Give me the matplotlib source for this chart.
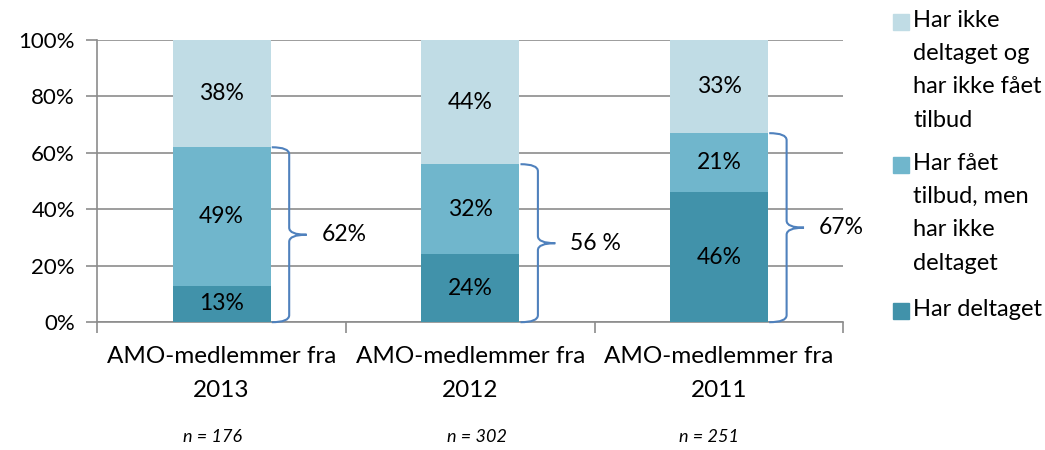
import matplotlib.pyplot as plt
from matplotlib.path import Path
from matplotlib.patches import PathPatch, Rectangle
import numpy as np

plt.rcParams['font.family'] = ['Lato', 'DejaVu Sans']

categories = ['AMO-medlemmer fra\n2013', 'AMO-medlemmer fra\n2012', 'AMO-medlemmer fra\n2011']
n_labels = ['n = 176', 'n = 302', 'n = 251']
deltaget = [13, 24, 46]
tilbud_ikke_deltaget = [49, 32, 21]
ikke_deltaget = [38, 44, 33]
brace_labels = ['62%', '56 %', '67%']
series_names = ['Har ikke\ndeltaget og\nhar ikke fået\ntilbud',
                'Har fået\ntilbud, men\nhar ikke\ndeltaget',
                'Har deltaget']

c_dark = '#4192AA'
c_mid = '#70B6CC'
c_light = '#C0DCE5'
brace_col = '#4F81BD'
grid_col = '#8C8C8C'

W, H = 1045, 450
fig = plt.figure(figsize=(W / 100, H / 100), dpi=100)
ax = fig.add_axes([0.093, 0.284, 0.714, 0.627])

x = np.arange(len(categories))
w = 0.394
d = np.array(deltaget)
m = np.array(tilbud_ikke_deltaget)
t = np.array(ikke_deltaget)
ax.bar(x, d, w, color=c_dark, zorder=3)
ax.bar(x, m, w, bottom=d, color=c_mid, zorder=3)
ax.bar(x, t, w, bottom=d + m, color=c_light, zorder=3)

fs = 16.5
for i in range(len(x)):
    ax.text(x[i], d[i] / 2, f'{d[i]}%', ha='center', va='center', fontsize=fs, zorder=4)
    ax.text(x[i], d[i] + m[i] / 2, f'{m[i]}%', ha='center', va='center', fontsize=fs, zorder=4)
    ax.text(x[i], d[i] + m[i] + t[i] / 2, f'{t[i]}%', ha='center', va='center', fontsize=fs, zorder=4)

# curly braces from 0 to top of middle segment
for i in range(len(x)):
    top = d[i] + m[i]
    mid = top / 2
    x0 = x[i] + w / 2 + 0.005
    x1 = x0 + 0.07
    xt = x1 + 0.07
    ry = 2.5
    verts = [(x0, top), (x1, top), (x1, top - ry),
             (x1, mid + ry), (x1, mid), (xt, mid),
             (x1, mid), (x1, mid - ry),
             (x1, ry), (x1, 0), (x0, 0)]
    codes = [Path.MOVETO, Path.CURVE3, Path.CURVE3,
             Path.LINETO, Path.CURVE3, Path.CURVE3,
             Path.CURVE3, Path.CURVE3,
             Path.LINETO, Path.CURVE3, Path.CURVE3]
    ax.add_patch(PathPatch(Path(verts, codes), fill=False, edgecolor=brace_col,
                           lw=1.5, zorder=5, clip_on=False))
    ax.text(xt + 0.06, mid, brace_labels[i], ha='left', va='center', fontsize=fs, zorder=5)

ax.set_xlim(-0.5, 2.5)
ax.set_ylim(0, 100)
ax.set_yticks(range(0, 101, 20))
ax.set_yticklabels([f'{v}%' for v in range(0, 101, 20)], fontsize=16)
ax.yaxis.grid(True, color=grid_col, lw=1.2, zorder=0)
ax.set_xticks(x)
ax.set_xticklabels(categories, fontsize=17.5, linespacing=1.75)
ax.set_xticks([-0.5, 0.5, 1.5, 2.5], minor=True)
ax.tick_params(axis='x', which='major', length=0, pad=17)
ax.tick_params(axis='x', which='minor', length=8, color=grid_col, width=1.2)
ax.tick_params(axis='y', length=8, color=grid_col, width=1.2, pad=8)
for s in ['top', 'right']:
    ax.spines[s].set_visible(False)
for s in ['left', 'bottom']:
    ax.spines[s].set_color(grid_col)
    ax.spines[s].set_linewidth(1.2)

n_x = [213, 477, 709]
for xi, lab in zip(n_x, n_labels):
    fig.text(xi / W, 1 - 437 / H, lab, ha='center', va='center',
             fontsize=13, style='italic')

# legend: square next to the first line of each entry
leg_cols = [c_light, c_mid, c_dark]
leg_y = [22, 165, 311]
for col, yy, name in zip(leg_cols, leg_y, series_names):
    fig.patches.append(Rectangle((893 / W, 1 - (yy + 8) / H), 16 / W, 16 / H,
                                 transform=fig.transFigure, color=col))
    fig.text(913 / W, 1 - (yy - 12) / H, name, ha='left', va='top',
             fontsize=17, linespacing=1.72)

fig.savefig('out.png', dpi=100)
plt.close(fig)
